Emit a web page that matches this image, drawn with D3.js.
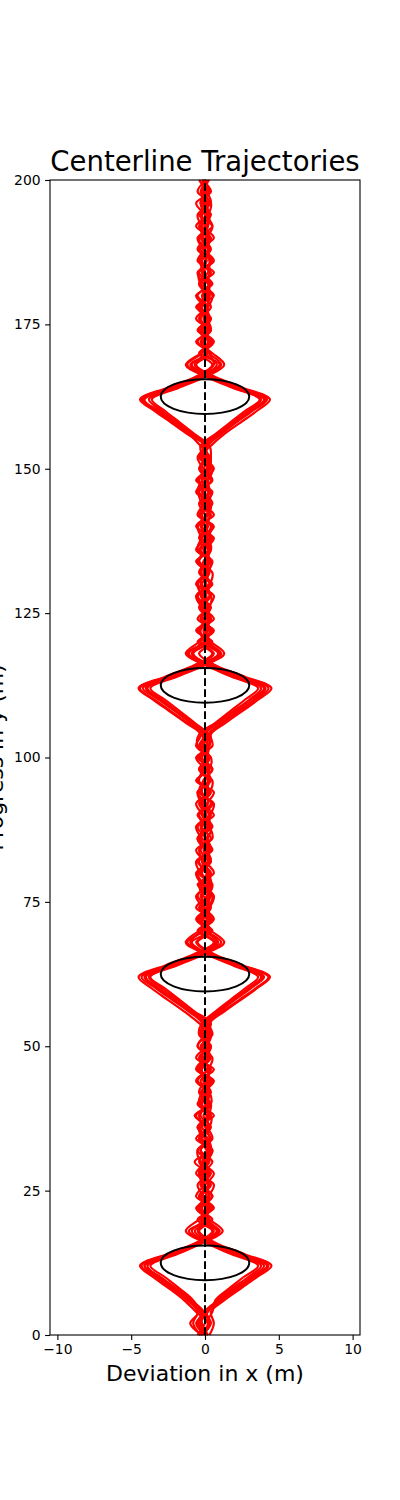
<!DOCTYPE html>
<html>
<head>
<meta charset="utf-8">
<script src="https://cdn.jsdelivr.net/npm/d3@7"></script>
<style>
  body { margin: 0; background: #fff; }
  svg text { font-family: "DejaVu Sans", sans-serif; fill: #000; }
</style>
</head>
<body>
<div id="plot"></div>
<script>
"use strict";

var WIDTH = 400;
var HEIGHT = 1500;
var LEFT = 50, RIGHT = 360, TOP = 180, BOTTOM = 1335;

// Sample positions along the track (m), one per value in each run
var progress = [0, 2, 4, 6, 8, 10, 12, 14, 16, 18, 20, 22, 24, 26, 28, 30, 32, 34, 36, 38,
    40, 42, 44, 46, 48, 50, 52, 54, 56, 58, 60, 62, 64, 66, 68, 70, 72, 74, 76, 78,
    80, 82, 84, 86, 88, 90, 92, 94, 96, 98, 100, 102, 104, 106, 108, 110, 112, 114, 116, 118,
    120, 122, 124, 126, 128, 130, 132, 134, 136, 138, 140, 142, 144, 146, 148, 150, 152, 154, 156, 158,
    160, 162, 164, 166, 168, 170, 172, 174, 176, 178, 180, 182, 184, 186, 188, 190, 192, 194, 196, 198, 200];

// Lateral deviation (m) of each run at those positions
var run0 = [0.1, -0.5, -0.2, -0.9, -1.9, -3.0, -4.1, -2.2, -0.3, 0.8, -0.2,
    0.3, -0.4, 0.2, -0.1, 0.5, -0.3, 0.1, -0.5, 0.2, 0.4, -0.2, 0.1, -0.4, 0.3, -0.1, 0.2,
    0.1, 1.0, 2.0, 3.1, 3.9, 2.1, 0.2, -0.9, 0.3,
    -0.3, 0.2, -0.5, 0.1, 0.4, -0.2, 0.3, -0.4, 0.1, -0.1, 0.5, -0.3, 0.2, -0.2, 0.1, -0.4,
    0.0, -1.0, -2.0, -3.1, -4.2, -2.3, -0.4, 0.9, -0.1,
    0.4, -0.2, 0.1, -0.5, 0.3, -0.1, 0.2, -0.3, 0.5, -0.2, 0.0, -0.4, 0.3, 0.1, -0.3, 0.2,
    -0.1, 0.9, 1.9, 3.0, 4.0, 2.2, 0.3, -1.0, 0.2,
    -0.3, 0.4, -0.1, 0.2, -0.5, 0.3, -0.2, 0.1, -0.4, 0.3, 0.0, -0.3, 0.2, -0.1, 0.1];
var run1 = [-0.2, 0.4, 0.1, 1.0, 2.1, 3.2, 4.2, 2.4, 0.4, -0.7, 0.3,
    -0.2, 0.5, -0.1, 0.3, -0.4, 0.2, -0.2, 0.4, -0.3, 0.1, 0.3, -0.5, 0.2, -0.1, 0.4, -0.3,
    -0.2, -1.1, -2.2, -3.3, -4.3, -2.4, -0.5, 0.7, -0.3,
    0.2, -0.4, 0.3, -0.1, -0.5, 0.2, -0.3, 0.4, -0.2, 0.1, -0.4, 0.3, -0.1, 0.5, -0.2, 0.1,
    0.2, 1.1, 2.2, 3.3, 4.1, 2.3, 0.3, -0.8, 0.2,
    -0.4, 0.1, 0.3, -0.2, -0.5, 0.2, 0.4, -0.1, -0.3, 0.2, -0.2, 0.5, -0.1, -0.4, 0.2, -0.1,
    0.1, -0.9, -2.0, -3.1, -4.2, -2.3, -0.4, 1.0, -0.2,
    0.3, -0.2, 0.4, -0.3, 0.1, -0.4, 0.2, 0.3, -0.1, -0.4, 0.2, 0.0, -0.3, 0.3, -0.1];
var run2 = [-0.3, -0.8, -0.5, -1.2, -2.2, -3.3, -4.3, -2.5, -0.5, 1.0, -0.1,
    0.1, -0.3, 0.4, -0.2, 0.2, -0.5, 0.3, 0.0, -0.4, 0.2, -0.1, 0.4, -0.3, 0.1, -0.2, 0.3,
    -0.1, -0.8, -1.8, -2.9, -3.8, -2.0, -0.2, 1.1, 0.1,
    -0.4, 0.1, 0.3, -0.3, 0.2, -0.1, -0.4, 0.2, 0.4, -0.2, 0.0, -0.5, 0.3, 0.1, -0.3, 0.2,
    -0.2, 0.8, 1.9, 3.0, 3.8, 2.0, 0.2, -1.1, 0.0,
    0.3, -0.3, 0.2, -0.1, 0.4, -0.4, 0.1, 0.3, -0.2, -0.5, 0.2, 0.1, -0.2, 0.4, -0.3, 0.0,
    0.2, 1.1, 2.1, 3.2, 4.2, 2.4, 0.5, -0.7, 0.1,
    -0.2, 0.2, -0.4, 0.1, 0.3, -0.3, 0.0, -0.2, 0.4, -0.1, -0.3, 0.2, 0.1, -0.2, 0.0];
var run3 = [0.2, -0.3, 0.2, 0.8, 1.8, 2.9, 3.8, 2.0, 0.2, -1.1, 0.2,
    -0.4, 0.1, -0.2, 0.4, -0.1, 0.3, -0.4, 0.2, 0.1, -0.3, 0.4, -0.1, -0.2, 0.3, -0.5, 0.1,
    0.3, 1.2, 2.3, 3.4, 4.3, 2.5, 0.5, -0.6, 0.4,
    -0.1, 0.3, -0.3, 0.2, -0.2, 0.4, 0.1, -0.5, 0.2, 0.3, -0.1, 0.2, -0.4, -0.1, 0.3, -0.2,
    0.1, -0.8, -1.9, -2.9, -3.9, -2.1, -0.2, 1.1, 0.2,
    -0.1, 0.2, -0.4, 0.3, 0.1, -0.3, -0.1, 0.4, -0.4, 0.1, 0.3, -0.2, 0.2, -0.5, 0.1, 0.3,
    -0.3, -1.1, -2.2, -3.3, -4.1, -2.2, -0.3, 0.8, 0.0,
    0.2, -0.4, 0.1, -0.2, 0.3, 0.2, -0.4, 0.1, -0.1, 0.3, -0.2, 0.4, -0.3, 0.0, 0.2];
var run4 = [0.0, -0.6, -0.1, -1.0, -2.0, -3.1, -3.9, -2.1, -0.2, 0.6, -0.3,
    0.4, -0.1, -0.5, 0.2, 0.0, -0.3, 0.4, -0.2, 0.3, -0.4, 0.1, 0.2, -0.3, 0.4, 0.0, -0.2,
    0.0, 0.9, 1.9, 3.0, 4.0, 2.2, 0.3, -1.2, -0.1,
    0.3, -0.2, 0.1, 0.4, -0.4, 0.0, 0.2, -0.3, 0.3, -0.5, 0.2, 0.0, 0.3, -0.3, 0.1, 0.3,
    0.3, 1.2, 2.3, 3.4, 4.3, 2.5, 0.4, -0.9, 0.3,
    0.0, 0.4, -0.3, 0.1, -0.2, 0.3, -0.4, 0.2, 0.0, 0.4, -0.3, -0.1, 0.3, -0.2, 0.4, -0.4,
    0.0, -1.0, -2.1, -3.2, -4.3, -2.5, -0.5, 0.6, 0.3,
    -0.1, 0.3, -0.3, 0.4, -0.1, 0.0, 0.3, -0.4, 0.2, 0.1, -0.4, 0.3, -0.2, 0.2, -0.1];
var run5 = [-0.1, 0.3, 0.0, 0.9, 2.0, 3.1, 4.0, 2.1, 0.2, -0.9, 0.0,
    0.2, -0.4, 0.3, -0.3, 0.1, 0.4, -0.2, -0.4, 0.2, 0.0, -0.3, 0.3, 0.1, -0.4, 0.2, -0.1,
    0.2, -0.9, -2.0, -3.1, -4.0, -2.2, -0.3, 0.9, 0.0,
    -0.2, 0.4, -0.1, -0.4, 0.3, -0.2, 0.2, 0.1, -0.3, 0.3, -0.2, 0.4, -0.5, 0.2, 0.0, -0.3,
    -0.1, -1.2, -2.3, -3.4, -4.4, -2.6, -0.6, 0.6, -0.3,
    0.2, -0.1, 0.4, -0.3, 0.0, 0.2, -0.5, 0.3, 0.1, -0.2, 0.4, -0.3, 0.0, 0.2, -0.4, 0.1,
    0.1, 0.8, 1.8, 2.9, 3.8, 2.0, 0.1, -1.2, -0.2,
    0.4, -0.1, 0.2, -0.4, 0.1, 0.3, -0.2, 0.0, 0.3, -0.3, 0.1, -0.2, 0.3, -0.1, 0.0];
var run6 = [0.2, -0.2, -0.3, -1.1, -2.1, -3.2, -4.1, -2.3, -0.4, 0.9, 0.1,
    -0.3, 0.3, -0.1, -0.4, 0.3, 0.1, -0.3, 0.3, -0.1, 0.4, -0.4, 0.0, 0.3, -0.2, 0.1, 0.4,
    0.1, -1.0, -2.1, -3.2, -4.1, -2.3, -0.4, 0.8, 0.2,
    0.1, -0.3, 0.4, -0.1, 0.1, -0.4, 0.3, 0.0, -0.2, 0.4, -0.3, 0.1, 0.2, -0.4, 0.3, -0.1,
    0.2, -0.9, -2.0, -3.1, -4.0, -2.2, -0.3, 1.0, 0.0,
    -0.3, 0.3, 0.0, -0.2, 0.4, -0.1, 0.2, -0.4, 0.3, 0.0, -0.3, 0.2, 0.4, -0.2, -0.1, 0.3,
    -0.2, 1.0, 2.0, 3.1, 4.1, 2.3, 0.4, -0.9, 0.1,
    -0.2, 0.1, 0.3, -0.3, 0.2, -0.1, 0.4, -0.3, 0.0, 0.2, -0.3, 0.1, 0.0, -0.2, 0.1];
var run7 = [0.1, -0.4, 0.1, 1.1, 2.2, 3.3, 4.3, 2.5, 0.5, -0.5, 0.2,
    0.0, 0.3, -0.3, 0.1, -0.2, 0.4, 0.0, -0.3, 0.4, -0.2, 0.2, -0.1, 0.4, -0.3, 0.3, 0.0,
    -0.1, 0.8, 1.8, 2.9, 3.8, 2.0, 0.1, -1.0, -0.2,
    0.4, 0.0, -0.2, 0.3, -0.3, 0.3, -0.1, 0.2, 0.0, -0.4, 0.4, -0.2, 0.0, 0.3, -0.4, 0.2,
    0.0, 0.9, 2.0, 3.1, 4.0, 2.2, 0.1, -1.2, -0.1,
    0.1, 0.3, -0.2, 0.4, -0.3, 0.0, 0.3, -0.1, 0.4, -0.3, 0.1, 0.3, -0.4, 0.0, 0.2, -0.2,
    0.2, -0.8, -1.8, -2.9, -3.8, -2.0, -0.1, 1.1, 0.3,
    0.0, -0.3, 0.2, 0.1, -0.2, 0.4, -0.1, -0.3, 0.3, -0.2, 0.2, 0.3, -0.1, 0.1, -0.2];
var run8 = [-0.4, 0.2, -0.6, -1.4, -2.4, -3.5, -4.4, -2.6, -0.6, 0.5, -0.5,
    0.6, -0.2, 0.3, -0.6, 0.1, 0.5, -0.4, 0.2, -0.7, 0.3, 0.0, 0.6, -0.5, 0.2, -0.3, 0.5,
    0.3, 1.3, 2.4, 3.5, 4.4, 2.6, 0.6, -0.5, 0.5,
    -0.5, 0.3, 0.6, -0.2, -0.6, 0.4, 0.0, -0.5, 0.5, -0.1, -0.6, 0.3, 0.5, -0.4, 0.2, -0.6,
    -0.3, -1.3, -2.4, -3.5, -4.5, -2.7, -0.7, 0.5, -0.5,
    0.5, -0.3, 0.2, 0.6, -0.5, 0.1, -0.6, 0.4, 0.2, -0.5, 0.6, -0.2, -0.4, 0.5, -0.1, -0.5,
    0.0, -1.2, -2.3, -3.4, -4.4, -2.6, -0.6, 0.5, -0.4,
    0.5, -0.5, 0.3, 0.0, -0.6, 0.5, -0.2, 0.4, -0.5, 0.1, 0.5, -0.4, 0.2, -0.3, 0.3];
var run9 = [0.3, 0.6, 0.4, 1.3, 2.4, 3.5, 4.5, 2.7, 0.7, -0.4, 0.5,
    -0.5, 0.2, 0.6, -0.4, -0.1, 0.5, -0.6, 0.3, 0.4, -0.5, 0.2, -0.3, 0.6, -0.6, 0.1, 0.4,
    -0.4, -1.4, -2.5, -3.6, -4.5, -2.7, -0.7, 0.6, -0.5,
    0.5, -0.6, 0.2, 0.5, -0.3, -0.6, 0.4, 0.1, -0.5, 0.6, -0.2, -0.5, 0.4, 0.0, -0.6, 0.5,
    0.4, 1.4, 2.5, 3.6, 4.5, 2.7, 0.7, -0.4, 0.5,
    -0.6, 0.4, -0.1, -0.5, 0.5, -0.3, 0.3, -0.6, 0.1, 0.5, -0.4, 0.3, -0.6, 0.2, 0.5, -0.3,
    0.4, 1.3, 2.4, 3.5, 4.4, 2.6, 0.6, -0.6, 0.4,
    -0.5, 0.3, -0.6, 0.2, 0.5, -0.4, 0.6, -0.5, 0.0, 0.4, -0.6, 0.2, 0.4, -0.5, 0.1];
var run10 = [-0.2, -1.0, -0.4, -0.8, -1.7, -2.7, -3.7, -1.9, -0.1, 1.2, 0.3,
    -0.6, 0.5, -0.3, 0.1, -0.7, 0.4, 0.2, -0.5, 0.6, -0.4, -0.2, 0.5, -0.6, 0.0, 0.4, -0.4,
    -0.2, 0.7, 1.7, 2.7, 3.6, 1.9, 0.0, -1.3, -0.4,
    0.6, -0.1, -0.6, 0.4, 0.2, -0.5, 0.5, -0.2, -0.6, 0.3, 0.6, -0.4, -0.1, 0.5, -0.5, 0.3,
    0.2, -0.7, -1.7, -2.7, -3.7, -1.9, 0.0, 1.3, 0.4,
    -0.5, 0.6, -0.2, -0.6, 0.3, 0.5, -0.4, 0.0, 0.6, -0.6, 0.2, 0.4, -0.5, -0.2, 0.6, -0.1,
    -0.3, 0.7, 1.7, 2.7, 3.7, 1.9, 0.0, -1.3, -0.3,
    0.6, -0.2, 0.4, -0.6, 0.3, -0.1, -0.5, 0.5, -0.3, 0.6, -0.2, -0.5, 0.4, 0.1, -0.4];
var run11 = [-0.5, 0.0, 0.5, 0.7, 1.6, 2.6, 3.6, 1.8, 0.0, -1.3, -0.4,
    0.5, -0.6, 0.0, 0.6, -0.3, -0.5, 0.5, 0.1, -0.6, 0.4, 0.3, -0.6, 0.2, 0.5, -0.5, 0.0,
    0.4, -0.7, -1.7, -2.7, -3.7, -1.9, 0.0, 1.3, 0.4,
    -0.6, 0.2, 0.5, -0.5, 0.6, 0.0, -0.6, 0.5, 0.3, -0.4, 0.1, 0.6, -0.6, 0.3, 0.4, -0.5,
    -0.4, 0.7, 1.7, 2.7, 3.6, 1.8, 0.0, -1.3, -0.4,
    0.6, -0.5, 0.3, 0.4, -0.6, 0.1, 0.5, -0.5, -0.2, 0.6, -0.5, 0.0, 0.5, -0.6, 0.3, 0.4,
    0.3, -0.7, -1.7, -2.7, -3.6, -1.8, 0.1, 1.3, 0.5,
    -0.6, 0.4, 0.1, -0.5, 0.6, -0.3, -0.4, 0.6, -0.1, -0.5, 0.5, 0.0, -0.6, 0.4, -0.2];
var runs = [run0, run1, run2, run3, run4, run5, run6, run7, run8, run9, run10, run11];

// Obstacles: centre along the track and radius (m)
var obstacleY = [12.5, 62.5, 112.5, 162.5];
var obstacleR = 3;

var xTicks = [-10, -5, 0, 5, 10];
var yTicks = [0, 25, 50, 75, 100, 125, 150, 175, 200];

var svg = d3.select("#plot").append("svg")
    .attr("width", WIDTH)
    .attr("height", HEIGHT)
    .style("background", "#fff");

var scaleX = d3.scaleLinear().domain([-10.5, 10.5]).range([LEFT, RIGHT]);
var scaleY = d3.scaleLinear().domain([0, 200]).range([BOTTOM, TOP]);

var pathGenerator = d3.line()
    .x(function (d) { return scaleX(d.x); })
    .y(function (d) { return scaleY(d.y); });

// Smoother line for the runs, so the wobble reads as loops rather than zigzags
var runLine = d3.line()
    .x(function (d) { return scaleX(d.x); })
    .y(function (d) { return scaleY(d.y); })
    .curve(d3.curveCatmullRom.alpha(0.5));

// Trajectories
svg.append("g").selectAll("path.run")
    .data(runs)
    .enter().append("path")
    .attr("class", "run")
    .attr("d", function (run) {
        return runLine(run.map(function (v, i) { return { x: v, y: progress[i] }; }));
    })
    .style("fill", "none")
    .style("stroke", "#ff0000")
    .style("stroke-width", 2.2)
    .style("stroke-linejoin", "round");

// Obstacles
svg.append("g").selectAll("ellipse")
    .data(obstacleY)
    .enter().append("ellipse")
    .attr("cx", scaleX(0))
    .attr("cy", function (d) { return scaleY(d); })
    .attr("rx", scaleX(obstacleR) - scaleX(0))
    .attr("ry", scaleY(0) - scaleY(obstacleR))
    .style("fill", "none")
    .style("stroke", "#000")
    .style("stroke-width", 2);

// Centerline
svg.append("path")
    .attr("d", pathGenerator([{ x: 0, y: 0 }, { x: 0, y: 200 }]))
    .style("stroke", "#000")
    .style("stroke-width", 2)
    .style("stroke-dasharray", "7.7,3.3");

// Frame
svg.append("rect")
    .attr("x", LEFT)
    .attr("y", TOP)
    .attr("width", RIGHT - LEFT)
    .attr("height", BOTTOM - TOP)
    .style("fill", "none")
    .style("stroke", "#000")
    .style("stroke-width", 1.1);

var xAxis = svg.append("g")
    .attr("transform", "translate(0," + BOTTOM + ")")
    .call(d3.axisBottom(scaleX).tickValues(xTicks).tickSizeOuter(0).tickSize(4.9).tickPadding(4.5)
        .tickFormat(function (d) { return d < 0 ? "\u2212" + Math.abs(d) : d; }));
var yAxis = svg.append("g")
    .attr("transform", "translate(" + LEFT + ",0)")
    .call(d3.axisLeft(scaleY).tickValues(yTicks).tickSizeOuter(0).tickSize(4.9).tickPadding(4.5));

[xAxis, yAxis].forEach(function (a) {
    a.select(".domain").remove();
    a.selectAll("line").style("stroke", "#000").style("stroke-width", 1.1);
    a.selectAll("text").style("font-family", "DejaVu Sans").style("font-size", "13.9px").style("fill", "#000");
});

// Title and labels
svg.append("text")
    .text("Centerline Trajectories")
    .attr("x", (LEFT + RIGHT) / 2)
    .attr("y", 171)
    .attr("text-anchor", "middle")
    .style("font-size", "27.5px");

svg.append("text")
    .text("Deviation in x (m)")
    .attr("x", (LEFT + RIGHT) / 2)
    .attr("y", 1381)
    .attr("text-anchor", "middle")
    .style("font-size", "22px");

// y label sits partly off the left edge, as in the original figure
svg.append("text")
    .text("Progress in y (m)")
    .attr("transform", "translate(3," + (TOP + BOTTOM) / 2 + ") rotate(-90)")
    .attr("text-anchor", "middle")
    .style("font-size", "22px");
</script>
</body>
</html>
